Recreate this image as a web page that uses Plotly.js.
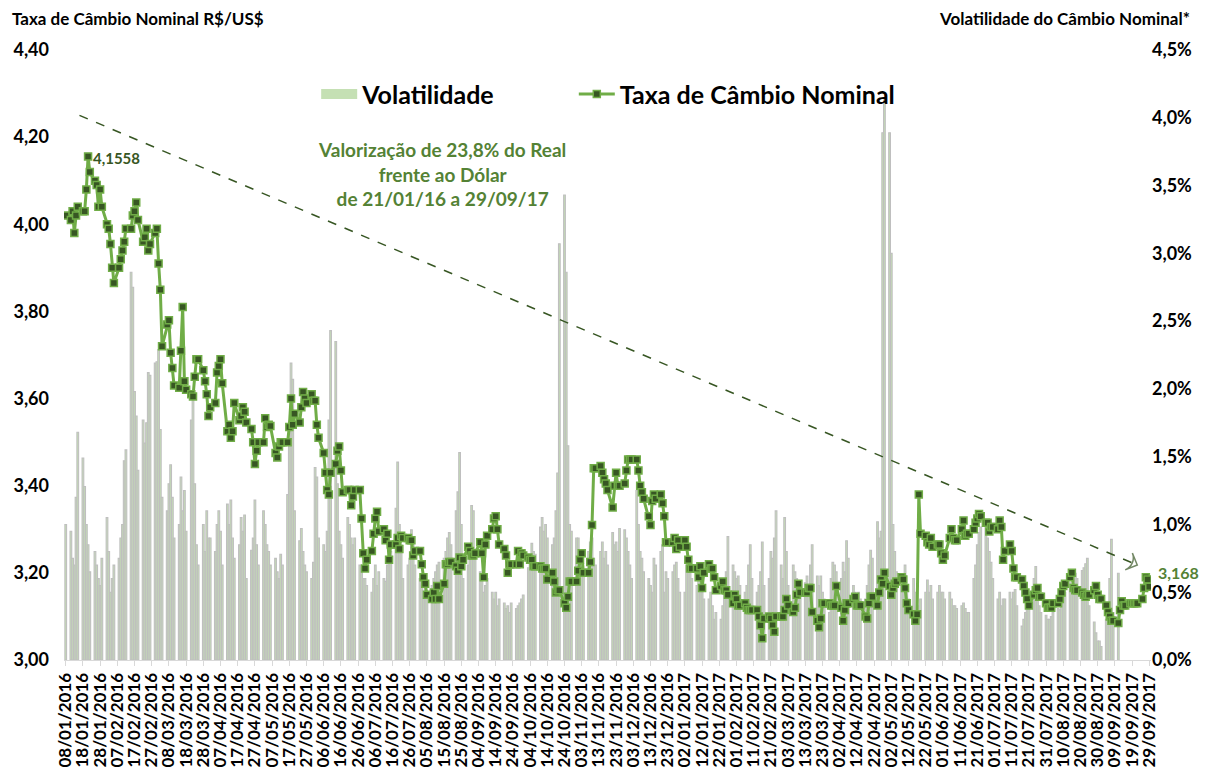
<!DOCTYPE html>
<html>
<head>
<meta charset="utf-8">
<script src="https://cdn.plot.ly/plotly-3.0.1.min.js"></script>
<style>html,body{margin:0;padding:0;background:#fff;}#chart{width:1211px;height:775px;}</style>
</head>
<body>
<div id="chart"></div>
<script>
// Months shown and the first trading day used in each month
const months = ['2016-01','2016-02','2016-03','2016-04','2016-05','2016-06','2016-07','2016-08','2016-09','2016-10','2016-11','2016-12',
                '2017-01','2017-02','2017-03','2017-04','2017-05','2017-06','2017-07','2017-08','2017-09'];
const firstDay = {'2016-01': 8};

// Taxa de Câmbio Nominal (R$/US$), one value per business day, by month
const rate2016_01 = [4.02,4.01,4.03,3.98,4.02,4.04,4.03,4.03,4.08,4.1558,4.12,4.10,4.09,4.04,4.08,4.04];
const rate2016_02 = [4.00,3.99,3.955,3.90,3.865,3.90,3.92,3.94,3.96,3.99,3.99,4.02,4.03,4.05,4.01,3.96,3.97,3.99,3.94,3.955,3.98];
const rate2016_03 = [3.99,3.91,3.85,3.72,3.77,3.78,3.705,3.67,3.63,3.625,3.71,3.81,3.64,3.62,3.61,3.605,3.65,3.69,3.69,3.665,3.64,3.61,3.56];
const rate2016_04 = [3.58,3.59,3.66,3.675,3.69,3.635,3.525,3.54,3.51,3.525,3.59,3.55,3.56,3.58,3.57,3.545,3.53,3.50,3.45,3.48,3.50];
const rate2016_05 = [3.50,3.555,3.535,3.54,3.537,3.475,3.465,3.49,3.50,3.50,3.50,3.535,3.60,3.54,3.565,3.545,3.58,3.615,3.60,3.59,3.61,3.595];
const rate2016_06 = [3.595,3.54,3.51,3.475,3.43,3.39,3.38,3.43,3.45,3.48,3.49,3.435,3.385,3.39,3.39,3.355,3.375,3.39,3.39,3.325,3.245,3.21];
const rate2016_07 = [3.23,3.25,3.29,3.325,3.34,3.295,3.30,3.275,3.29,3.23,3.265,3.265,3.28,3.255,3.285,3.28,3.28,3.275,3.275,3.24,3.25];
const rate2016_08 = [3.25,3.22,3.19,3.175,3.15,3.14,3.155,3.14,3.17,3.14,3.175,3.22,3.22,3.225,3.225,3.215,3.205,3.235,3.215,3.23,3.26,3.25,3.24];
const rate2016_09 = [3.24,3.245,3.27,3.245,3.19,3.265,3.285,3.30,3.325,3.33,3.30,3.265,3.255,3.24,3.20,3.22,3.22,3.22,3.25,3.22,3.245,3.24];
const rate2016_10 = [3.235,3.23,3.23,3.215,3.215,3.215,3.21,3.21,3.21,3.185,3.20,3.18,3.155,3.16,3.16,3.13,3.12,3.145,3.18,3.18,3.18];
const rate2016_11 = [3.205,3.23,3.245,3.20,3.20,3.225,3.31,3.44,3.44,3.445,3.43,3.415,3.405,3.39,3.35,3.40,3.43,3.40,3.40,3.405,3.435,3.46];
const rate2016_12 = [3.46,3.46,3.46,3.435,3.40,3.385,3.37,3.33,3.31,3.365,3.38,3.37,3.38,3.36,3.33,3.27,3.27,3.27,3.28,3.255,3.275,3.26];
const rate2017_01 = [3.275,3.26,3.23,3.21,3.21,3.21,3.19,3.215,3.165,3.20,3.22,3.21,3.21,3.19,3.16,3.17,3.18,3.16,3.16,3.15,3.13,3.15];
const rate2017_02 = [3.14,3.125,3.125,3.13,3.12,3.115,3.115,3.115,3.115,3.10,3.08,3.05,3.095,3.10,3.095,3.08,3.065,3.10,3.10,3.10];
const rate2017_03 = [3.115,3.14,3.125,3.11,3.12,3.15,3.175,3.155,3.155,3.155,3.165,3.165,3.11,3.09,3.075,3.095,3.13,3.13,3.13,3.125,3.125,3.125,3.17];
const rate2017_04 = [3.12,3.09,3.115,3.13,3.13,3.14,3.145,3.125,3.125,3.125,3.10,3.095,3.13,3.145,3.145,3.125,3.155,3.185,3.175,3.20];
const rate2017_05 = [3.17,3.15,3.165,3.175,3.18,3.19,3.185,3.165,3.13,3.115,3.105,3.09,3.105,3.38,3.29,3.285,3.27,3.265,3.28,3.26,3.265,3.265,3.245];
const rate2017_06 = [3.23,3.24,3.28,3.30,3.28,3.275,3.275,3.30,3.32,3.285,3.29,3.29,3.30,3.315,3.325,3.335,3.33,3.315,3.315,3.295,3.305,3.305];
const rate2017_07 = [3.30,3.32,3.305,3.23,3.25,3.265,3.25,3.21,3.19,3.19,3.185,3.17,3.155,3.14,3.125,3.15,3.16,3.165,3.145,3.145,3.13];
const rate2017_08 = [3.12,3.12,3.12,3.13,3.13,3.14,3.155,3.17,3.175,3.19,3.20,3.165,3.16,3.16,3.155,3.15,3.145,3.15,3.15,3.16,3.17,3.15,3.14];
const rate2017_09 = [3.14,3.125,3.11,3.10,3.09,3.09,3.085,3.115,3.135,3.125,3.125,3.13,3.13,3.13,3.13,3.13,3.14,3.165,3.19,3.185,3.168];

// Volatilidade do Câmbio Nominal (%), one value per business day, by month
const vol2016_01 = [1.0,0.95,0.75,0.7,1.2,1.68,1.49,1.28,1.0,0.85,0.65,0.8,0.7,0.6,0.55,0.75];
const vol2016_02 = [1.05,0.8,0.5,0.6,0.7,0.75,0.9,1.0,1.47,1.55,2.86,2.75,1.98,1.8,1.4,1.77,1.6,1.75,2.12,2.1,2.19];
const vol2016_03 = [2.2,2.29,1.7,1.2,1.1,1.3,1.44,1.2,0.9,1.0,1.35,1.1,1.25,0.95,1.77,1.92,1.3,0.85,0.7,1.0,0.8,1.1,0.9];
const vol2016_04 = [0.9,0.8,1.0,1.1,0.95,0.7,1.15,1.0,1.18,0.9,0.75,0.85,1.05,0.95,1.07,0.6,0.81,0.9,1.18,0.85,0.7];
const vol2016_05 = [1.1,1.0,0.85,0.8,0.7,0.75,0.65,0.6,0.78,0.7,1.22,1.7,2.19,2.07,1.1,0.88,0.97,0.8,0.7,0.65,0.6,0.72];
const vol2016_06 = [1.42,1.35,0.9,0.85,0.8,0.95,1.77,2.43,2.35,1.3,0.95,0.85,0.75,1.05,1.0,0.9,0.85,0.9,0.7,0.65,0.6,0.6];
const vol2016_07 = [0.55,0.5,0.6,0.7,0.55,0.65,0.6,0.58,0.7,0.75,0.8,1.12,1.46,1.0,0.85,0.6,0.7,0.75,0.96,0.85,0.7];
const vol2016_08 = [0.6,0.55,0.5,0.6,0.5,0.55,0.6,0.65,0.7,0.72,0.75,0.8,0.9,0.94,0.85,1.1,1.24,1.53,1.0,0.6,0.7,0.8,1.14];
const vol2016_09 = [1.1,0.8,0.65,0.6,0.5,0.55,0.6,0.5,0.45,0.5,0.4,0.45,0.42,0.38,0.4,0.35,0.42,0.38,0.4,0.42,0.45,0.48];
const vol2016_10 = [0.68,0.75,0.86,0.8,0.78,0.98,1.05,0.95,1.0,0.9,0.85,0.9,1.1,1.38,3.07,3.43,2.86,1.58,1.0,0.95,0.9];
const vol2016_11 = [0.9,0.75,0.7,0.65,0.8,0.87,0.9,0.75,0.7,0.8,0.87,0.75,0.8,0.7,0.94,0.85,0.87,0.8,0.97,0.96,0.9,0.8];
const vol2016_12 = [0.7,0.6,1.25,1.0,0.8,0.75,0.65,0.6,0.55,0.5,0.75,0.7,0.8,0.85,0.5,0.65,0.6,0.65,0.7,0.72,0.6,0.5];
const vol2017_01 = [0.5,0.7,0.65,0.7,0.6,0.55,0.65,0.6,0.5,0.45,0.45,0.5,0.4,0.3,0.35,0.3,0.4,0.5,0.65,0.91,0.7,0.65];
const vol2017_02 = [0.6,0.62,0.55,0.5,0.55,0.7,0.85,0.6,0.5,0.55,0.65,0.87,0.55,0.6,0.8,0.75,0.9,1.1,0.7,0.6];
const vol2017_03 = [1.05,0.8,0.55,0.7,0.65,0.6,0.55,0.5,0.57,0.62,0.55,0.7,0.85,0.62,0.55,0.62,0.5,0.45,0.35,0.6,0.72,0.7,0.65];
const vol2017_04 = [0.6,0.72,0.65,0.88,0.75,0.55,0.5,0.45,0.5,0.45,0.45,0.55,0.7,0.81,0.75,1.02,0.9,0.95,3.89,4.13];
const vol2017_05 = [3.89,3.0,1.0,0.8,0.65,0.55,0.6,0.7,0.5,0.45,0.6,0.5,0.4,0.35,0.45,0.5,0.59,0.5,0.55,0.45,0.5,0.55,0.5];
const vol2017_06 = [0.5,0.45,0.5,0.45,0.4,0.4,0.38,0.4,0.42,0.38,0.35,0.35,0.6,0.7,0.85,0.94,0.98,1.01,0.9,0.8,0.72,0.6];
const vol2017_07 = [0.45,0.5,0.4,0.45,0.45,0.5,0.45,0.5,0.52,0.4,0.25,0.3,0.35,0.45,0.5,0.6,0.69,0.52,0.4,0.35,0.33];
const vol2017_08 = [0.3,0.3,0.32,0.35,0.38,0.37,0.42,0.45,0.5,0.57,0.5,0.55,0.64,0.6,0.66,0.68,0.71,0.75,0.4,0.28,0.2,0.14,0.14];
const vol2017_09 = [0.1,0.3,0.42,0.6,0.89,0.35,0.64];

// Trend arrow (start and end of the dashed line) and labels
const trendDates = ['2016-01-16','2017-09-22'];
const trendValues = [4.25, 3.218];
const peakDate = '2016-01-21', peakValue = 4.1558, peakLabel = '4,1558';
const lastLabel = '3,168';
const noteText = 'Valorização de 23,8% do Real<br>frente ao Dólar<br>de 21/01/16 a 29/09/17';
const noteDate = '2016-08-14', noteValue = 4.115;

const rateByMonth = [rate2016_01,rate2016_02,rate2016_03,rate2016_04,rate2016_05,rate2016_06,rate2016_07,rate2016_08,rate2016_09,rate2016_10,rate2016_11,rate2016_12,
  rate2017_01,rate2017_02,rate2017_03,rate2017_04,rate2017_05,rate2017_06,rate2017_07,rate2017_08,rate2017_09];
const volByMonth = [vol2016_01,vol2016_02,vol2016_03,vol2016_04,vol2016_05,vol2016_06,vol2016_07,vol2016_08,vol2016_09,vol2016_10,vol2016_11,vol2016_12,
  vol2017_01,vol2017_02,vol2017_03,vol2017_04,vol2017_05,vol2017_06,vol2017_07,vol2017_08,vol2017_09];

function businessDays(ym, first) {
  const [y, m] = ym.split('-').map(Number);
  const out = [];
  for (let d = first; d <= 31; d++) {
    const dt = new Date(Date.UTC(y, m - 1, d));
    if (dt.getUTCMonth() !== m - 1) break;
    const wd = dt.getUTCDay();
    if (wd !== 0 && wd !== 6) out.push(dt.toISOString().slice(0, 10));
  }
  return out;
}

const rateX = [], rateY = [], volX = [], volY = [];
months.forEach((ym, i) => {
  const days = businessDays(ym, firstDay[ym] || 1);
  rateByMonth[i].forEach((v, k) => { if (k < days.length) { rateX.push(days[k]); rateY.push(v); } });
  volByMonth[i].forEach((v, k) => { if (k < days.length) { volX.push(days[k]); volY.push(v); } });
});

const FONT = 'Lato, "Open Sans", sans-serif';
const DARK = '#375623';
const GREEN = '#70AD47';
const TEXTGREEN = '#548235';
const BARGREEN = '#C5E0B4';
const BARGRAY = '#BFBFBF';
const LEGFONT = {family: FONT, size: 25, color: '#000', weight: 'bold'};

const traces = [
  {
    type: 'bar', name: 'Volatilidade', x: volX, y: volY, yaxis: 'y', showlegend: false,
    width: 86400000 * 1.0,
    marker: {color: BARGREEN, line: {color: BARGRAY, width: 1.1}},
    hoverinfo: 'skip'
  },
  {
    // legend entry only (wide swatch like the original legend)
    type: 'scatter', mode: 'lines', name: 'Volatilidade', x: [null], y: [null], yaxis: 'y',
    line: {color: BARGREEN, width: 14}, hoverinfo: 'skip', legend: 'legend'
  },
  {
    type: 'scatter', mode: 'lines+markers', name: 'Taxa de Câmbio Nominal',
    x: rateX, y: rateY, yaxis: 'y2', legend: 'legend2',
    line: {color: GREEN, width: 3},
    marker: {symbol: 'square', size: 7, color: DARK, line: {color: GREEN, width: 1.5}},
    hoverinfo: 'skip'
  },
  {
    type: 'scatter', mode: 'lines+markers', x: trendDates, y: trendValues, yaxis: 'y2',
    showlegend: false, hoverinfo: 'skip',
    line: {color: DARK, width: 1.5, dash: 'dash'},
    marker: {symbol: ['circle', 'arrow-wide-open'], size: [0, 13], angleref: 'previous',
             color: DARK, line: {color: DARK, width: 1.5}}
  }
];

const layout = {
  width: 1211, height: 775,
  margin: {l: 64, r: 60, t: 50, b: 115},
  paper_bgcolor: '#ffffff', plot_bgcolor: '#ffffff',
  separators: ',.',
  font: {family: FONT, color: '#000', size: 14},
  showlegend: true,
  bargap: 0,
  legend: {orientation: 'h', x: 0.232, xanchor: 'left', y: 0.965, yanchor: 'top',
           font: LEGFONT, bgcolor: 'rgba(0,0,0,0)', itemwidth: 36},
  legend2: {orientation: 'h', x: 0.469, xanchor: 'left', y: 0.965, yanchor: 'top',
           font: LEGFONT, bgcolor: 'rgba(0,0,0,0)', itemwidth: 36},
  xaxis: {
    type: 'date', range: ['2016-01-07', '2017-09-30'],
    tick0: '2016-01-08', dtick: 86400000 * 10, tickformat: '%d/%m/%Y',
    tickangle: -90, ticks: 'outside', ticklen: 5, tickcolor: '#D9D9D9',
    showline: true, linecolor: '#D9D9D9', linewidth: 1, showgrid: false, zeroline: false,
    tickfont: {family: FONT, size: 17, color: '#000', weight: 'bold'}
  },
  yaxis: {
    side: 'right', range: [0, 4.5], dtick: 0.5, tickformat: '.1f', ticksuffix: '%',
    showgrid: false, zeroline: false, showline: false, ticks: '',
    tickfont: {family: FONT, size: 18, color: '#000', weight: 'bold'}
  },
  yaxis2: {
    overlaying: 'y', side: 'left', range: [3.0, 4.4], dtick: 0.2, tickformat: '.2f',
    showgrid: false, zeroline: false, showline: false, ticks: '', ticklabelstandoff: 14,
    tickfont: {family: FONT, size: 18, color: '#000', weight: 'bold'}
  },
  annotations: [
    {xref: 'paper', yref: 'paper', x: -0.0497, y: 1.052, xanchor: 'left', yanchor: 'middle', showarrow: false,
     text: 'Taxa de Câmbio Nominal R$/US$', font: {family: FONT, size: 17, color: '#000', weight: 'bold'}},
    {xref: 'paper', yref: 'paper', x: 1.0377, y: 1.052, xanchor: 'right', yanchor: 'middle', showarrow: false,
     text: 'Volatilidade do Câmbio Nominal*', font: {family: FONT, size: 17, color: '#000', weight: 'bold'}},
    {xref: 'x', yref: 'y2', x: noteDate, y: noteValue, showarrow: false, align: 'center',
     text: noteText, font: {family: FONT, size: 19, color: TEXTGREEN, weight: 'bold'}},
    {xref: 'x', yref: 'y2', x: peakDate, y: peakValue, showarrow: false, xanchor: 'left', yanchor: 'middle',
     xshift: 3, yshift: -2, text: peakLabel, font: {family: FONT, size: 15, color: DARK, weight: 'bold'}},
    {xref: 'x', yref: 'y2', x: rateX[rateX.length - 1], y: rateY[rateY.length - 1], showarrow: false,
     xanchor: 'left', yanchor: 'middle', xshift: 7, yshift: 14, text: lastLabel,
     font: {family: FONT, size: 16, color: TEXTGREEN, weight: 'bold'}}
  ]
};

Plotly.newPlot('chart', traces, layout, {displayModeBar: false, staticPlot: true});
</script>
</body>
</html>
